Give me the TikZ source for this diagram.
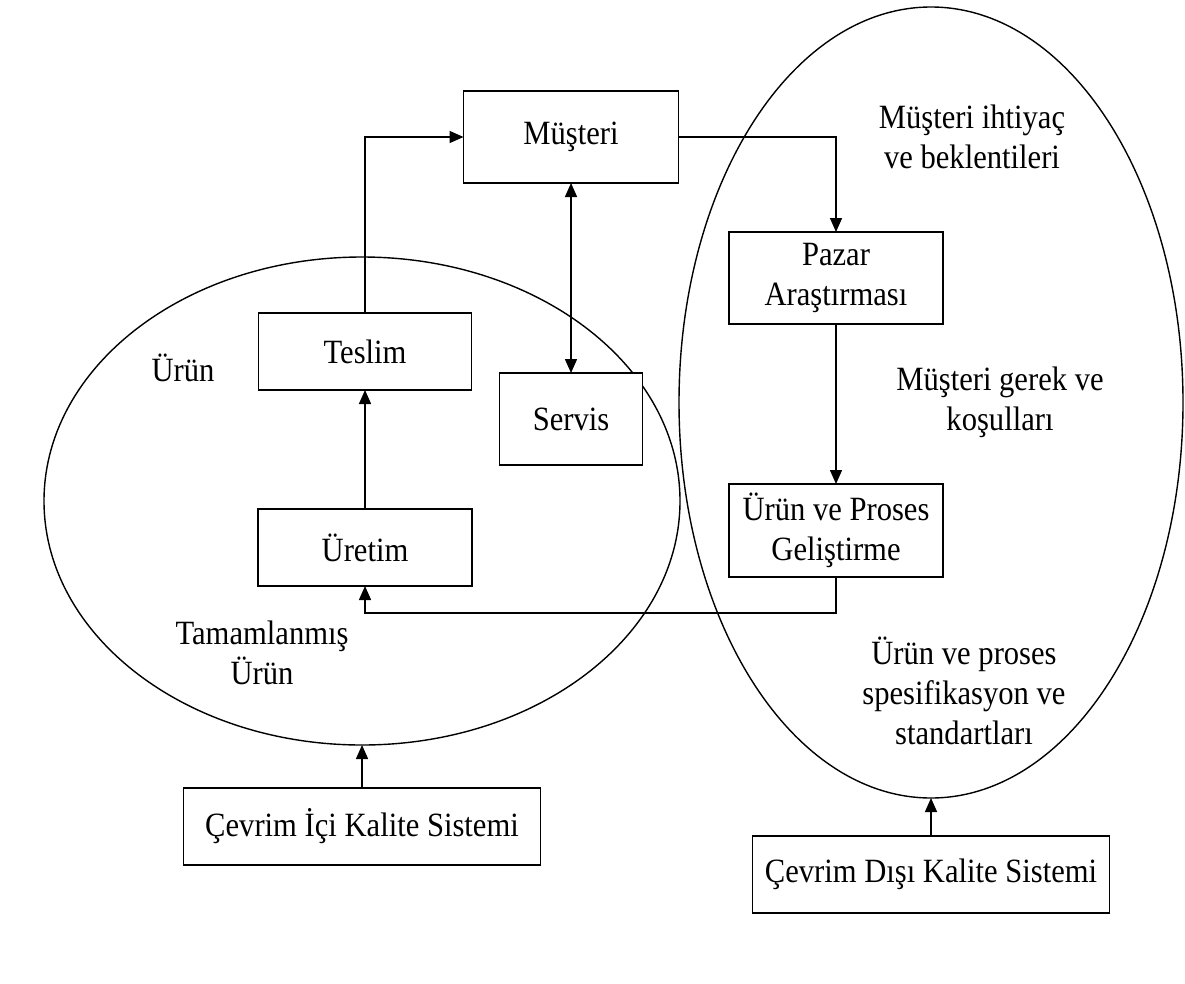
\documentclass[tikz,border=0pt]{standalone}
\usepackage{fontspec}
\setmainfont{Liberation Serif}[FakeStretch=0.9]
\usetikzlibrary{arrows.meta,shapes.geometric}
\begin{document}
\begin{tikzpicture}[x=1pt,y=-1pt,
  txt/.style={font=\fontsize{34}{40}\selectfont, align=center, inner sep=0pt},
  box/.style={txt, draw, fill=white, line width=1.7pt, outer sep=0pt},
  oval/.style={ellipse, draw, line width=1.4pt, inner sep=0pt, outer sep=0pt},
  arr/.style={line width=1.5pt, -{Triangle[length=14pt,width=12pt]}},
  arrb/.style={line width=1.5pt, {Triangle[length=14pt,width=12pt]}-{Triangle[length=14pt,width=12pt]}}
]
\useasboundingbox (0,0) rectangle (1185,983);

% ellipses
\node[oval, minimum width=636pt, minimum height=488pt] (ic) at (362,501) {};
\node[oval, minimum width=504pt, minimum height=791pt] (dis) at (931,402.5) {};

% boxes
\node[box, minimum width=215pt, minimum height=92pt] (musteri) at (571,137) {Müşteri};
\node[box, minimum width=213pt, minimum height=77pt] (teslim) at (365,351.5) {Teslim};
\node[box, minimum width=143pt, minimum height=92pt] (servis) at (571,419) {Servis};
\node[box, minimum width=214pt, minimum height=77pt] (uretim) at (365,547.5) {Üretim};
\node[box, minimum width=214pt, minimum height=92pt] (pazar) at (836,278) {Pazar\\Araştırması};
\node[box, minimum width=214pt, minimum height=93pt] (gelis) at (836,530.5) {Ürün ve Proses\\Geliştirme};
\node[box, minimum width=357pt, minimum height=77pt] (cici) at (362,826.5) {Çevrim İçi Kalite Sistemi};
\node[box, minimum width=357pt, minimum height=77pt] (cdisi) at (931,874.5) {Çevrim Dışı Kalite Sistemi};

% labels
\node[txt] (lurun) at (183,368) {Ürün};
\node[txt] (ltam) at (262,653) {Tamamlanmış\\Ürün};
\node[txt] (lihti) at (972,137) {Müşteri ihtiyaç\\ve beklentileri};
\node[txt] (lgerek) at (1000,402) {Müşteri gerek ve\\koşulları};
\node[txt] (lspec) at (964,691) {Ürün ve proses\\spesifikasyon ve\\standartları};

% connectors
\coordinate (turn) at (836,613);
\draw[arr] (teslim.north) |- (musteri.west);
\draw[arr] (musteri.east) -| (pazar.north);
\draw[arrb] (musteri.south) -- (servis.north);
\draw[arr] (uretim.north) -- (teslim.south);
\draw[arr] (pazar.south) -- (gelis.north);
\draw[arr] (gelis.south) -- (turn) -| (uretim.south);
\draw[arr] (cici.north) -- (ic.south);
\draw[arr] (cdisi.north) -- (dis.south);
\end{tikzpicture}
\end{document}
